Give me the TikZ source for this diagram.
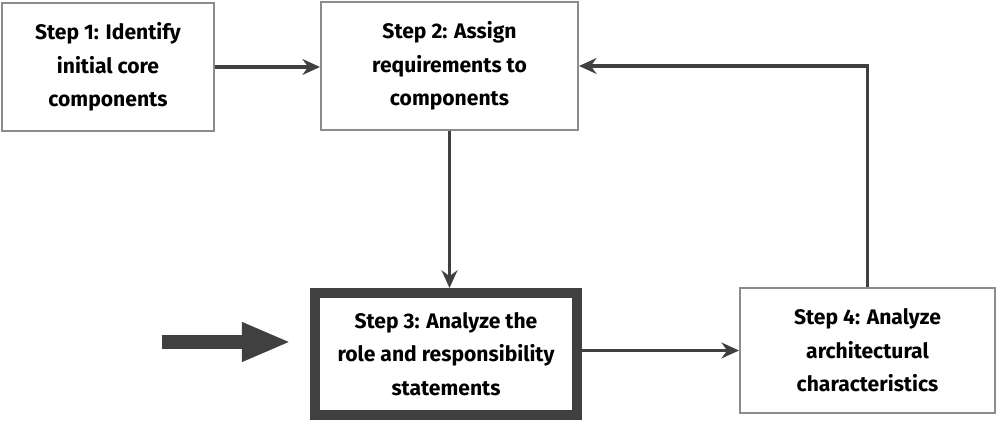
\documentclass[tikz,border=0pt]{standalone}
\usepackage{fontspec}
\setmainfont{Fira Sans}
\usetikzlibrary{arrows.meta, positioning, calc}
\definecolor{boxgray}{RGB}{140, 140, 140}
\definecolor{inkgray}{RGB}{64, 64, 64}

\begin{document}
\begin{tikzpicture}[
    stepbox/.style={draw=boxgray, line width=1.1pt, align=center, text=black,
      minimum width=#1, minimum height=2.56cm, inner sep=2pt,
      font=\bfseries\fontsize{12}{19}\selectfont},
    stepbox/.default=5.1cm,
    flow/.style={-{Stealth[length=10pt, width=9pt]}, line width=1.8pt, inkgray},
    bigarrow/.style={-{Triangle[length=0.98cm, width=0.72cm]}, line width=8pt, inkgray}]
  \useasboundingbox (0,0) rectangle (20,8.5);

  %% TOP ROW
  \node[stepbox=4.24cm] (s1) at (2.16,7.16) {Step 1: Identify\\initial core\\components};
  \node[stepbox=5.14cm] (s2) at (8.99,7.18) {Step 2: Assign\\requirements to\\components};

  %% BOTTOM ROW
  \node[stepbox=5.24cm, draw=inkgray, line width=5.7pt, minimum height=2.44cm]
    (s3) at (8.92,1.42) {Step 3: Analyze the\\role and responsibility\\statements};
  \node[stepbox=5.1cm, minimum height=2.5cm] (s4) at (17.35,1.49)
    {Step 4: Analyze\\architectural\\characteristics};

  %% Entry arrow
  \coordinate (entry) at (3.24,1.66);
  \draw[bigarrow, shorten >=0.38cm] (entry) -- (entry -| s3.west);

  %% Connectors
  \draw[flow] (s1.east) -- (s1.east -| s2.west);
  \draw[flow] (s2.south) -- (s2.south |- s3.north);
  \draw[flow] (s3.east |- s4.west) -- (s4.west);
  \draw[flow] (s4.north) |- (s2.east);
\end{tikzpicture}
\end{document}
